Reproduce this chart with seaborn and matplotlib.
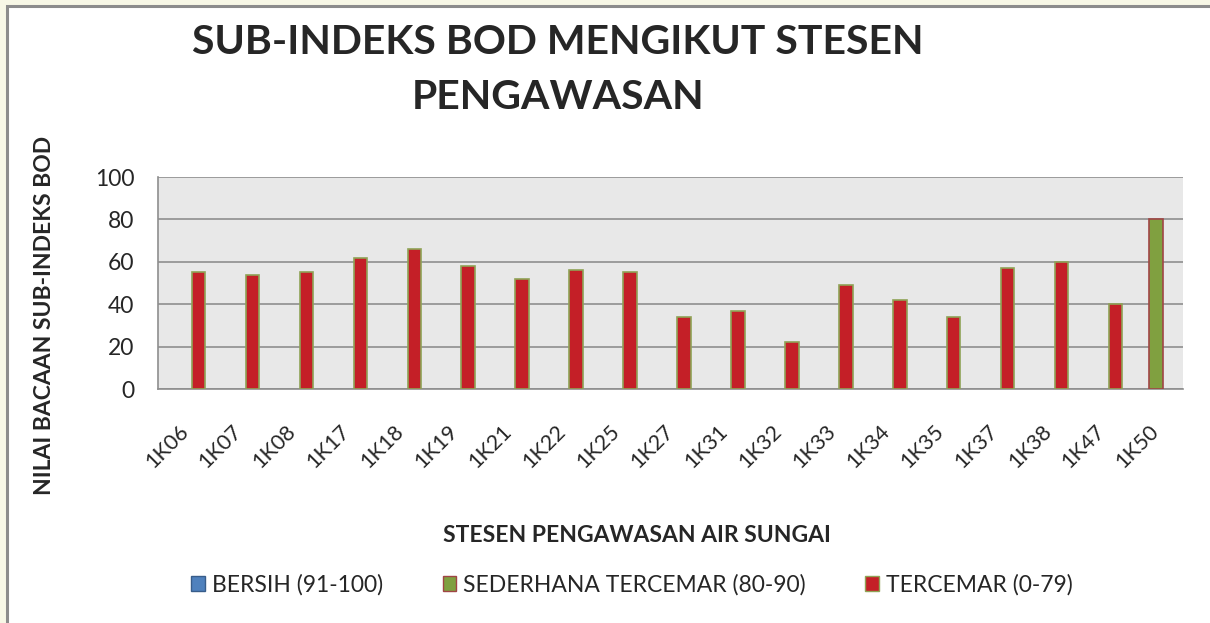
import numpy as np
import pandas as pd
import matplotlib
matplotlib.use("Agg")
import matplotlib.pyplot as plt
import matplotlib.patches as mpatches
import seaborn as sns

stations = ["1K06", "1K07", "1K08", "1K17", "1K18", "1K19", "1K21", "1K22", "1K25", "1K27",
            "1K31", "1K32", "1K33", "1K34", "1K35", "1K37", "1K38", "1K47", "1K50"]
bersih = [np.nan] * 19
sederhana = [np.nan] * 18 + [80]
tercemar = [55, 54, 55, 62, 66, 58, 52, 56, 55, 34, 37, 22, 49, 42, 34, 57, 60, 40, np.nan]
series = ["BERSIH (91-100)", "SEDERHANA TERCEMAR (80-90)", "TERCEMAR (0-79)"]

df = pd.DataFrame({"stesen": stations * 3,
                   "siri": [series[0]] * 19 + [series[1]] * 19 + [series[2]] * 19,
                   "nilai": bersih + sederhana + tercemar})

fills = {series[0]: "#4f81bd", series[1]: "#80a040", series[2]: "#c41f27"}
edges = {series[0]: "#385d8a", series[1]: "#a04545", series[2]: "#8fa356"}

sns.set_style("white")
plt.rcParams["font.family"] = ["Lato", "DejaVu Sans"]

fig = plt.figure(figsize=(12.1, 6.23), dpi=100)
fig.patch.set_facecolor("#f7f7e6")
frame = mpatches.Rectangle((6.5 / 1210, -0.02), 1.1, 1.02 - 5.5 / 623,
                           transform=fig.transFigure, facecolor="white",
                           edgecolor="#8c8c8c", lw=2.2, zorder=-5)
fig.add_artist(frame)
ax = fig.add_axes([158 / 1210, 1 - 389 / 623, 1025 / 1210, 212 / 623])
ax.set_zorder(2)

sns.barplot(data=df, x="stesen", y="nilai", hue="siri", order=stations, hue_order=series,
            palette=fills, width=0.75, dodge=True, legend=False, saturation=1, ax=ax, zorder=3)

# edge colours per series, matched by fill
for p in ax.patches:
    fc = matplotlib.colors.to_hex(p.get_facecolor())
    for s in series:
        if fc == fills[s]:
            p.set_edgecolor(edges[s])
            p.set_linewidth(1.2)

ax.set_facecolor("#e8e8e8")
ax.set_ylim(0, 100)
ax.set_xlim(-0.5, len(stations) - 0.5)
ax.set_yticks(range(0, 101, 20))
ax.yaxis.grid(True, color="#8e8e8e", lw=1.2, zorder=1)
ax.set_axisbelow(True)
for side in ["top", "right"]:
    ax.spines[side].set_visible(False)
for side in ["left", "bottom"]:
    ax.spines[side].set_color("#8e8e8e")
    ax.spines[side].set_linewidth(1.2)

ax.tick_params(axis="y", length=0, pad=17, labelsize=16.5)
ax.tick_params(axis="x", length=0, pad=28, labelsize=15.5)
plt.setp(ax.get_xticklabels(), rotation=45, ha="right", va="center", rotation_mode="anchor")

ax.set_xlabel("STESEN PENGAWASAN AIR SUNGAI", fontsize=16.5, fontweight="bold")
ax.xaxis.set_label_coords((637 - 158) / 1025, (389 - 535) / 212)
ax.xaxis.label.set_va("center")
ax.set_ylabel("NILAI BACAAN SUB-INDEKS BOD", fontsize=16.5, fontweight="bold")
ax.yaxis.set_label_coords((45 - 158) / 1025, (389 - 315) / 212)
ax.yaxis.label.set_va("center")

fig.text(558 / 1210, 1 - 70 / 623, "SUB-INDEKS BOD MENGIKUT STESEN\nPENGAWASAN",
         ha="center", va="center", fontsize=29.5, fontweight="bold", linespacing=1.6)

handles = [mpatches.Patch(facecolor=fills[s], edgecolor=edges[s], lw=1) for s in series]
fig.legend(handles, series, loc="center", bbox_to_anchor=(632 / 1210, 1 - 585 / 623),
           ncol=3, frameon=False, fontsize=16.5, handlelength=0.6, handleheight=0.65,
           handletextpad=0.3, columnspacing=2.6)

fig.savefig("out.png", dpi=100, facecolor=fig.get_facecolor())
